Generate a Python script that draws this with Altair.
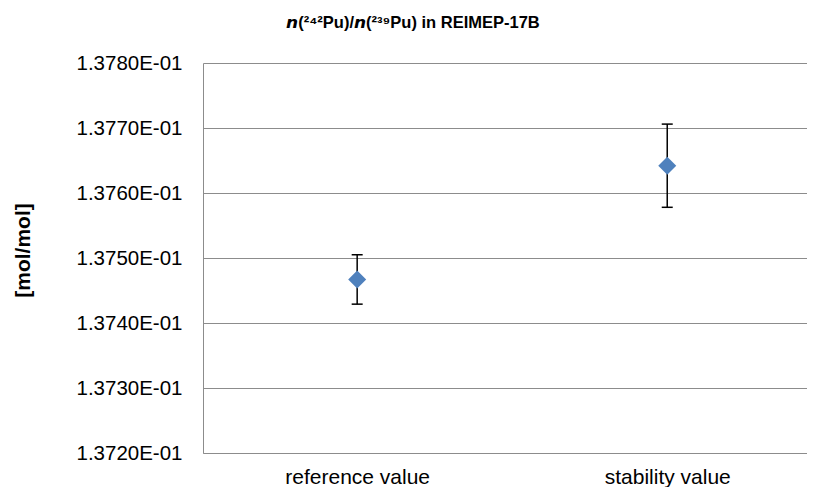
import altair as alt
import pandas as pd

categories = ["reference value", "stability value"]
values = [0.137467, 0.137642]
upper = [0.137505, 0.137706]
lower = [0.137429, 0.137578]
y_ticks = [0.1372, 0.1373, 0.1374, 0.1375, 0.1376, 0.1377, 0.1378]
title_text = "𝙣(²⁴²Pu)/𝙣(²³⁹Pu) in REIMEP-17B"
y_title = "[mol/mol]"

df = pd.DataFrame({"cat": categories, "value": values, "upper": upper, "lower": lower})

W, H = 604, 390
FONT = "Liberation Sans"
GRID = "#8c8c8c"

x_enc = alt.X(
    "cat:N", sort=categories, title=None,
    scale=alt.Scale(type="point", padding=0.474, align=0.5245),
    axis=alt.Axis(labelAngle=0, labelFontSize=21, labelColor="black", labelFont=FONT,
                  labelPadding=13, ticks=False, domainColor=GRID, domainWidth=1, grid=False),
)
y_scale = alt.Scale(domain=[0.1372, 0.1378], nice=False, zero=False)
y_axis = alt.Axis(
    values=y_ticks, labelExpr="format(datum.value*10, '.4f') + 'E-01'",
    labelFontSize=20.5, labelColor="black", labelFont=FONT, labelPadding=21,
    ticks=False, domainColor=GRID, domainWidth=1, gridColor=GRID, gridWidth=1,
    gridOpacity=1, title=y_title, titleFont=FONT, titleFontSize=21, titleFontWeight="bold",
    titleColor="black", titleX=-180, titleY=H / 2 - 8, titleAngle=270, titleAlign="center",
    titleBaseline="middle",
)

base = alt.Chart(df)
rule = base.mark_rule(color="black", strokeWidth=1.5).encode(
    x=x_enc, y=alt.Y("lower:Q", scale=y_scale, axis=y_axis), y2="upper:Q")
cap_hi = base.mark_tick(color="black", thickness=1.5, size=11, opacity=1).encode(
    x=x_enc, y=alt.Y("upper:Q", scale=y_scale))
cap_lo = base.mark_tick(color="black", thickness=1.5, size=11, opacity=1).encode(
    x=x_enc, y=alt.Y("lower:Q", scale=y_scale))
pts = base.mark_point(shape="diamond", filled=True, color="#4F81BD", size=324, opacity=1).encode(
    x=x_enc, y=alt.Y("value:Q", scale=y_scale))

chart = alt.layer(rule, cap_hi, cap_lo, pts).properties(
    width=W, height=H,
    autosize=alt.AutoSizeParams(type="none"),
    padding={"left": 195, "top": 55, "right": 0, "bottom": 34},
    title=alt.TitleParams(text=title_text, font=FONT, fontSize=16.5, fontWeight="bold",
                          color="black", anchor="middle", dx=-92, offset=22),
).configure_view(stroke=None)

chart.save("out.html", embed_options={"renderer": "svg", "actions": False})
